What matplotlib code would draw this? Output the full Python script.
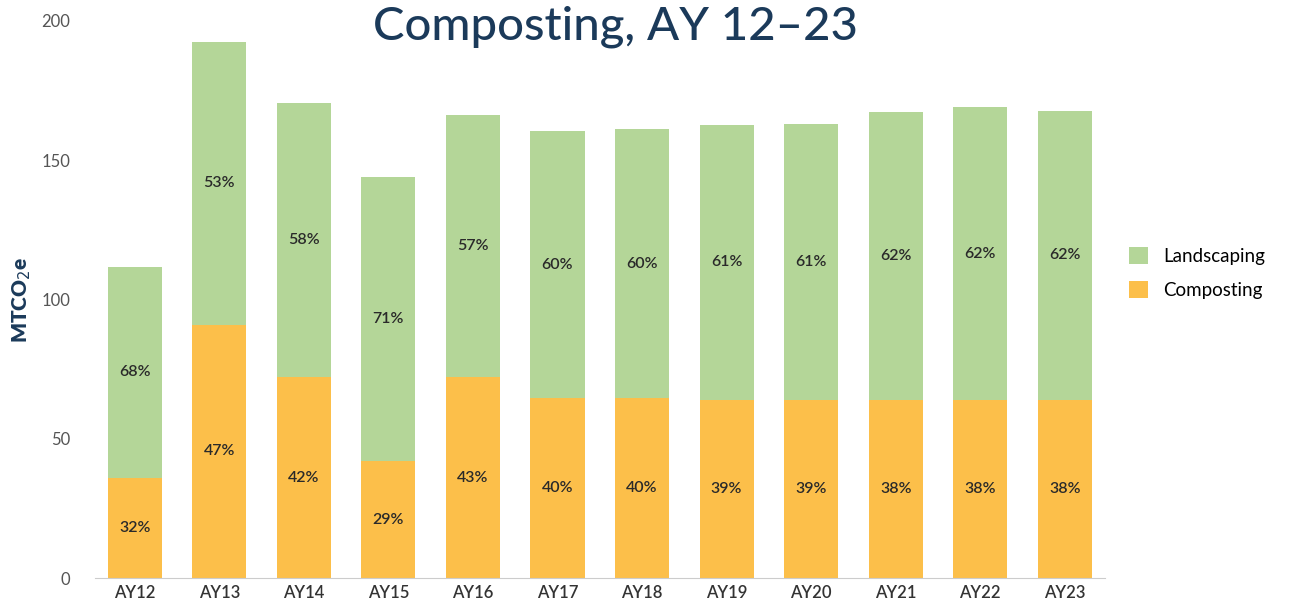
import numpy as np
import matplotlib.pyplot as plt

years = ['AY12', 'AY13', 'AY14', 'AY15', 'AY16', 'AY17',
         'AY18', 'AY19', 'AY20', 'AY21', 'AY22', 'AY23']
composting = [36, 91, 72, 42, 72, 64.5, 64.5, 64, 64, 64, 64, 64]
landscaping = [75.7, 101.6, 98.4, 102.1, 94.2, 96.1, 96.8, 98.8, 99.1, 103.3, 105.0, 103.7]
comp_pct = ['32%', '47%', '42%', '29%', '43%', '40%', '40%', '39%', '39%', '38%', '38%', '38%']
land_pct = ['68%', '53%', '58%', '71%', '57%', '60%', '60%', '61%', '61%', '62%', '62%', '62%']

green = '#b4d698'
orange = '#fcbf4a'
navy = '#1b3a5a'

plt.rcParams['font.family'] = ['Lato', 'DejaVu Sans']

fig = plt.figure(figsize=(13.01, 5.99), dpi=100)
ax = fig.add_axes([0.073, 0.035, 0.776, 0.93])

x = np.arange(len(years))
b1 = ax.bar(x, composting, width=0.64, color=orange, label='Composting')
b2 = ax.bar(x, landscaping, width=0.64, bottom=composting, color=green, label='Landscaping')

ax.bar_label(b1, labels=comp_pct, label_type='center', fontsize=11.5,
             fontweight='semibold', color='#2a2a2a')
ax.bar_label(b2, labels=land_pct, label_type='center', fontsize=11.5,
             fontweight='semibold', color='#2a2a2a')

ax.set_ylim(0, 200)
ax.set_xlim(-0.47, 11.47)
ax.set_xticks(x)
ax.set_xticklabels(years, fontsize=12, color='#333333', fontweight='semibold')
ax.set_yticks([0, 50, 100, 150, 200])
ax.tick_params(axis='y', labelsize=12, labelcolor='#555555', length=0, pad=18)
ax.tick_params(axis='x', length=0, pad=5)

for s in ['top', 'right', 'left']:
    ax.spines[s].set_visible(False)
ax.spines['bottom'].set_color('#cccccc')

ax.set_ylabel('MTCO$_2$e', fontsize=15, fontweight='heavy', color=navy, labelpad=6)

fig.text(0.473, 0.955, 'Composting, AY 12–23', ha='center', va='center',
         fontsize=34, fontweight='medium', color=navy)

handles = [b2, b1]
fig.legend(handles, ['Landscaping', 'Composting'], loc='center left',
           bbox_to_anchor=(0.855, 0.544), frameon=False, fontsize=13.5,
           handlelength=1.0, handleheight=1.0, labelspacing=0.85)

fig.savefig('out.png', dpi=100)
